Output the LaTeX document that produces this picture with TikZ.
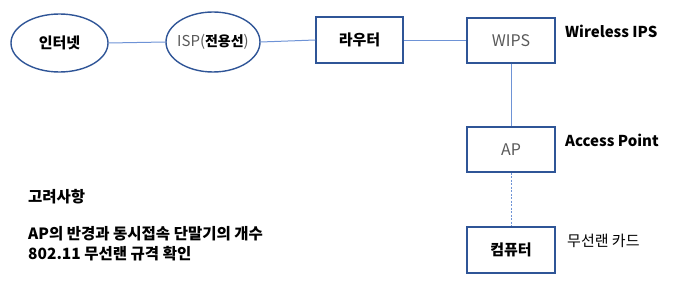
\documentclass[tikz,border=0pt]{standalone}
\usepackage{fontspec}
\setmainfont{Noto Sans CJK KR}
\newfontfamily\kr{Noto Sans CJK KR}
\usetikzlibrary{shapes.geometric}
\definecolor{edge}{HTML}{2F5597}
\definecolor{wire}{HTML}{6E93D6}
\definecolor{thin}{HTML}{595959}
\tikzset{
  x=1pt,y=-1pt,
  oval/.style={ellipse,draw=edge,line width=1.4pt,inner sep=0pt},
  boxn/.style={rectangle,draw=edge,line width=1.4pt,inner sep=0pt},
  lbl/.style={font=\kr\bfseries\fontsize{15}{18}\selectfont,inner sep=0pt},
  thintxt/.style={font=\kr\fontsize{16}{18}\selectfont,text=thin,inner sep=0pt},
  link/.style={draw=wire,line width=1pt},
  dotlink/.style={draw=wire,line width=1pt,dash pattern=on 2pt off 1.5pt},
  side/.style={font=\kr\bfseries\fontsize{15}{18}\selectfont,anchor=west,inner sep=0pt},
  note/.style={font=\kr\bfseries\fontsize{15.5}{18}\selectfont,anchor=west,inner sep=0pt},
  sideplain/.style={font=\kr\fontsize{15}{18}\selectfont,anchor=west,inner sep=0pt},
}
\begin{document}
\begin{tikzpicture}
\useasboundingbox (0,0) rectangle (682,283);
\node[oval,minimum width=97pt,minimum height=58pt,lbl] (inet) at (59.5,43) {인터넷};
\node[oval,minimum width=94pt,minimum height=60pt] (isp) at (213,42) {};
\node[inner sep=0pt] (isptxt) at (213,42) {{\kr\fontsize{15}{17}\selectfont\color{thin}ISP(}{\kr\bfseries\fontsize{14}{17}\selectfont 전용선}{\kr\fontsize{15}{17}\selectfont\color{thin})}};
\node[boxn,minimum width=87pt,minimum height=46pt,lbl] (router) at (359.5,40) {라우터};
\node[boxn,minimum width=88pt,minimum height=45pt,thintxt] (wips) at (511,40.5) {WIPS};
\node[boxn,minimum width=88pt,minimum height=45pt,thintxt] (ap) at (511,149.5) {AP};
\node[boxn,minimum width=88pt,minimum height=46pt,lbl] (pc) at (511,250) {컴퓨터};
\draw[link] (inet.east) -- (isp.west);
\draw[link] (isp.east) -- (router.west);
\draw[link] (router.east |- 0,41) -- (wips.west |- 0,41);
\draw[link] (wips.south) -- (ap.north);
\draw[dotlink] (ap.south) -- (pc.north);
\node[side] (wl) at (565,31) {Wireless IPS};
\node[side] (apl) at (565,140) {Access Point};
\node[sideplain] (card) at (567,241) {무선랜 카드};
\node[note] (t1) at (28,197) {고려사항};
\node[note] (t2) at (28,234) {AP의 반경과 동시접속 단말기의 개수};
\node[note] (t3) at (28,254) {802.11 무선랜 규격 확인};
\end{tikzpicture}
\end{document}
